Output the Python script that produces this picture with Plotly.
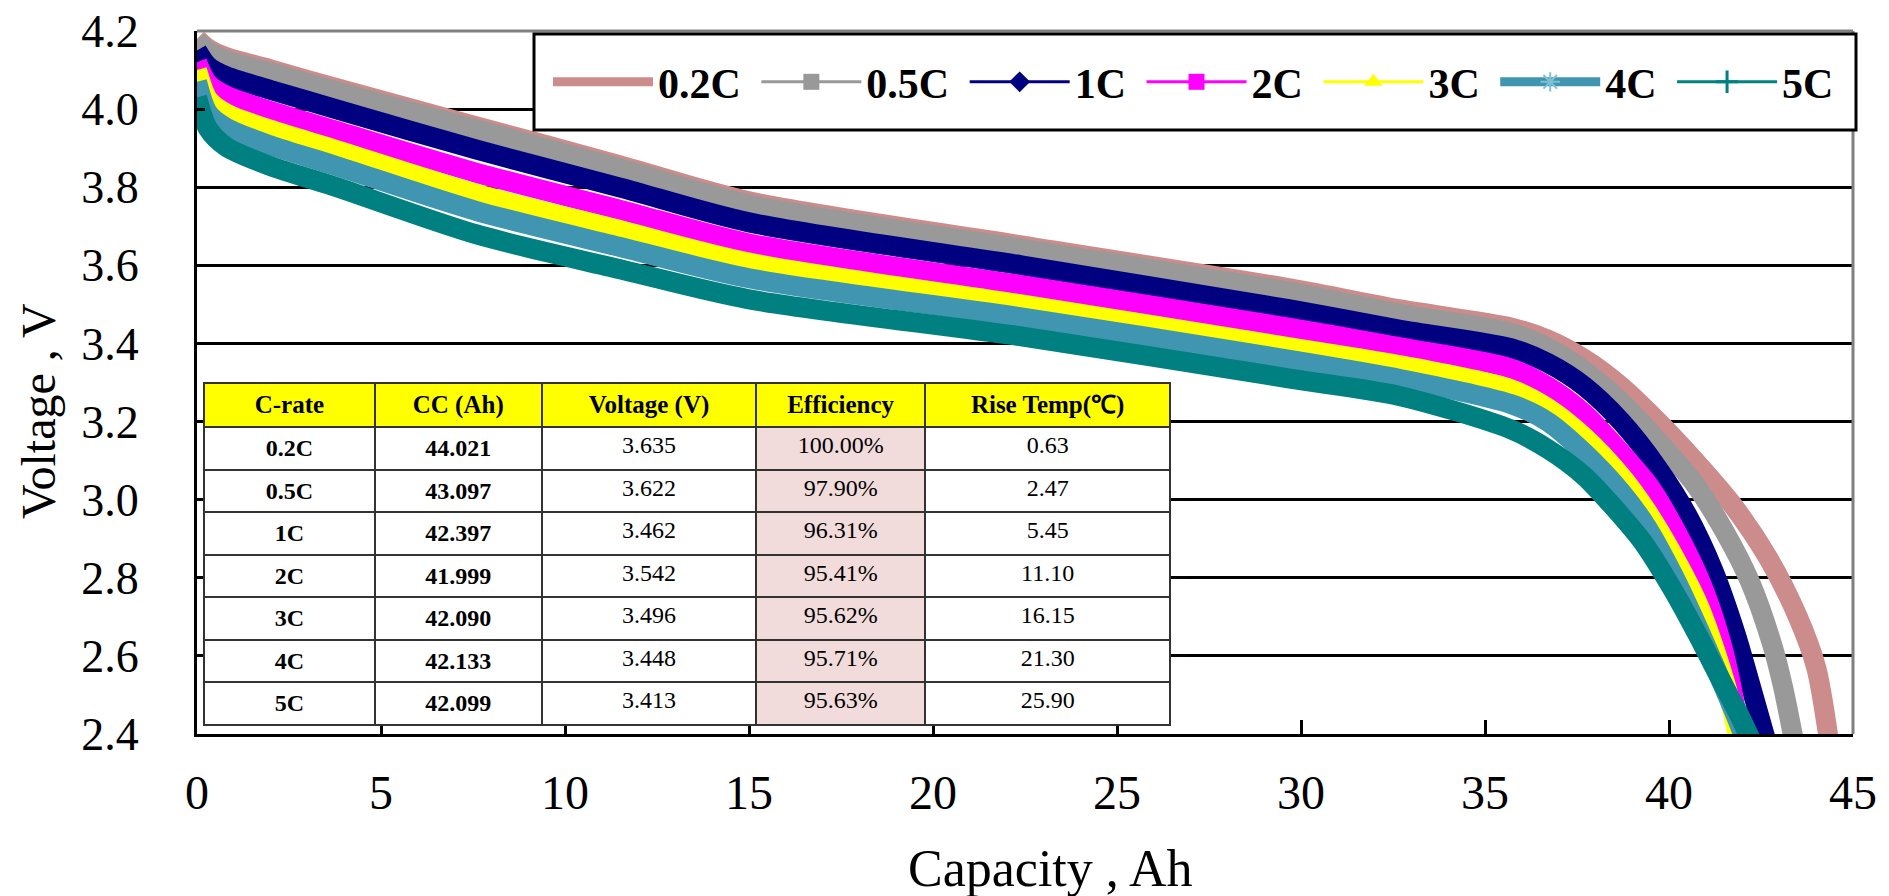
import plotly.graph_objects as go

# ---------------- data ----------------
CAP_02 = [0, 0.3, 0.8, 2, 3.7, 7.6, 11.5, 15, 22.4, 29.7, 32.7, 35.7, 36.7, 37.7, 38.7, 39.7, 40.7, 41.7, 42.7, 43.5, 44.0, 44.35]
V_02 = [4.18, 4.155, 4.133, 4.102, 4.056, 3.956, 3.856, 3.764, 3.651, 3.541, 3.487, 3.441, 3.410, 3.360, 3.290, 3.200, 3.100, 2.990, 2.850, 2.700, 2.570, 2.380]

CAP_05 = [0, 0.3, 0.8, 2, 3.7, 7.6, 11.5, 15, 22.4, 29.7, 32.7, 35.7, 36.7, 37.7, 38.7, 39.7, 40.7, 41.5, 42.2, 42.8, 43.1, 43.4]
V_05 = [4.175, 4.148, 4.125, 4.094, 4.048, 3.948, 3.848, 3.756, 3.643, 3.532, 3.476, 3.427, 3.390, 3.330, 3.250, 3.150, 3.040, 2.920, 2.790, 2.630, 2.520, 2.380]

CAP_1 = [0, 0.3, 0.8, 2, 3.7, 7.6, 11.5, 15, 22.4, 29.7, 32.7, 35.7, 36.7, 37.7, 38.7, 39.7, 40.5, 41.2, 41.8, 42.2, 42.65]
V_1 = [4.15, 4.11, 4.084, 4.049, 4.002, 3.896, 3.799, 3.710, 3.600, 3.487, 3.435, 3.388, 3.350, 3.290, 3.200, 3.080, 2.960, 2.820, 2.660, 2.530, 2.380]

CAP_2 = [0, 0.3, 0.8, 2, 3.7, 7.6, 11.5, 15, 22.4, 29.7, 32.7, 35.7, 36.7, 37.7, 38.7, 39.5, 40.3, 40.9, 41.4, 41.7, 41.95]
V_2 = [4.12, 4.065, 4.034, 3.995, 3.947, 3.837, 3.742, 3.656, 3.549, 3.440, 3.390, 3.336, 3.290, 3.220, 3.120, 3.030, 2.900, 2.780, 2.640, 2.520, 2.380]

CAP_3 = [0, 0.3, 0.8, 2, 3.7, 7.6, 11.5, 15, 22.4, 29.7, 32.7, 35.7, 36.7, 37.7, 38.7, 39.4, 40.1, 40.8, 41.3, 41.7, 41.9]
V_3 = [4.10, 4.025, 3.989, 3.947, 3.898, 3.783, 3.690, 3.607, 3.500, 3.390, 3.344, 3.283, 3.235, 3.160, 3.060, 2.970, 2.860, 2.730, 2.600, 2.470, 2.380]

CAP_4 = [0, 0.3, 0.8, 2, 3.7, 7.6, 11.5, 15, 22.4, 29.7, 32.7, 35.7, 36.7, 37.7, 38.7, 39.4, 40.1, 40.8, 41.4, 41.8, 42.1]
V_4 = [4.07, 3.99, 3.952, 3.907, 3.857, 3.739, 3.647, 3.567, 3.467, 3.358, 3.309, 3.245, 3.200, 3.120, 3.020, 2.930, 2.810, 2.670, 2.540, 2.450, 2.380]

CAP_5 = [0, 0.3, 0.8, 2, 3.7, 7.6, 11.5, 15, 22.4, 29.7, 32.7, 35.7, 36.7, 37.7, 38.5, 39.3, 40.1, 40.8, 41.4, 41.9, 42.25]
V_5 = [4.03, 3.95, 3.903, 3.854, 3.803, 3.679, 3.590, 3.513, 3.418, 3.310, 3.265, 3.180, 3.130, 3.060, 2.980, 2.890, 2.770, 2.650, 2.540, 2.450, 2.380]

SERIES_NAMES = ["0.2C", "0.5C", "1C", "2C", "3C", "4C", "5C"]

# table
TABLE_HEADER = ["C-rate", "CC (Ah)", "Voltage (V)", "Efficiency", "Rise Temp(℃)"]
C_RATES = ["0.2C", "0.5C", "1C", "2C", "3C", "4C", "5C"]
CC_AH = ["44.021", "43.097", "42.397", "41.999", "42.090", "42.133", "42.099"]
AVG_V = ["3.635", "3.622", "3.462", "3.542", "3.496", "3.448", "3.413"]
EFFICIENCY = ["100.00%", "97.90%", "96.31%", "95.41%", "95.62%", "95.71%", "95.63%"]
RISE_TEMP = ["0.63", "2.47", "5.45", "11.10", "16.15", "21.30", "25.90"]

X_TICKS = [0, 5, 10, 15, 20, 25, 30, 35, 40, 45]
Y_TICKS = [2.4, 2.6, 2.8, 3.0, 3.2, 3.4, 3.6, 3.8, 4.0, 4.2]

# ---------------- styling ----------------
COLORS = ["#CC8C8C", "#999999", "#000080", "#FF00FF", "#FFFF00", "#4096B0", "#008080"]
SERIF = "Liberation Serif"

OFF = 8  # page body margin of the html page
W, H = 1889 - OFF, 896 - OFF
# plot area in page pixels: x 197..1853, y 31..734
ML, MT = 197 - OFF, 31 - OFF
MR, MB = 36, 162
PW, PH = W - ML - MR, H - MT - MB


def px_x(p):  # page pixel -> paper fraction
    return (p - OFF - ML) / PW


def px_y(p):
    return (H - MB - (p - OFF)) / PH


fig = go.Figure()

curves = [(CAP_02, V_02), (CAP_05, V_05), (CAP_1, V_1), (CAP_2, V_2),
          (CAP_3, V_3), (CAP_4, V_4), (CAP_5, V_5)]
for (xs, ys), name, col in zip(curves, SERIES_NAMES, COLORS):
    fig.add_trace(go.Scatter(x=xs, y=ys, mode="lines", name=name,
                             line=dict(color=col, width=20, shape="spline", smoothing=0.8),
                             showlegend=False, hoverinfo="skip"))

# legend entries (styles only)
leg_styles = [
    dict(mode="lines", line=dict(color=COLORS[0], width=9)),
    dict(mode="lines+markers", line=dict(color=COLORS[1], width=3), marker=dict(symbol="square", size=16, color=COLORS[1])),
    dict(mode="lines+markers", line=dict(color=COLORS[2], width=3), marker=dict(symbol="diamond", size=16, color=COLORS[2])),
    dict(mode="lines+markers", line=dict(color=COLORS[3], width=3), marker=dict(symbol="square", size=16, color=COLORS[3])),
    dict(mode="lines+markers", line=dict(color=COLORS[4], width=3), marker=dict(symbol="triangle-up", size=16, color=COLORS[4])),
    dict(mode="lines+markers", line=dict(color=COLORS[5], width=9), marker=dict(symbol="asterisk-open", size=16, color="#7FC0D4", line=dict(width=2, color="#7FC0D4"))),
    dict(mode="lines+markers", line=dict(color=COLORS[6], width=3), marker=dict(symbol="cross-thin-open", size=16, color=COLORS[6], line=dict(width=3, color=COLORS[6]))),
]
for name, st in zip(SERIES_NAMES, leg_styles):
    fig.add_trace(go.Scatter(x=[None], y=[None], name=name + "\u00a0", showlegend=True, **st))

# table
bold = lambda lst: ["<b>%s</b>" % s for s in lst]
fig.add_trace(go.Table(
    domain=dict(x=[px_x(204), px_x(1171)], y=[0, px_y(383)]),
    columnwidth=[171, 167, 215, 169, 245],
    header=dict(values=bold(TABLE_HEADER), fill_color="#FFFF00",
                line=dict(color="#333333", width=2), align="center", height=44,
                font=dict(family=SERIF, size=25, color="black")),
    cells=dict(values=[bold(C_RATES), bold(CC_AH), AVG_V, EFFICIENCY, RISE_TEMP],
               fill_color=["white", "white", "white", "#F2DCDB", "white"],
               line=dict(color="#333333", width=2), align="center", height=42.5,
               font=dict(family=SERIF, size=24, color="black")),
))

fig.update_layout(
    width=W, height=H,
    margin=dict(l=ML, r=MR, t=MT, b=MB, pad=0, autoexpand=False),
    paper_bgcolor="white", plot_bgcolor="white",
    font=dict(family=SERIF, color="black"),
    showlegend=True,
    legend=dict(orientation="h", x=px_x(548), xanchor="left", y=px_y(82), yanchor="middle",
                bgcolor="rgba(0,0,0,0)", borderwidth=0, itemwidth=100,
                font=dict(family=SERIF, size=42, color="black", weight="bold")),
    xaxis=dict(range=[0, 45], tickvals=X_TICKS, ticks="inside", ticklen=14, tickwidth=3,
               tickcolor="black", showline=True, linecolor="black", linewidth=3,
               showgrid=False, zeroline=False, tickfont=dict(family=SERIF, size=48),
               ticklabelstandoff=14, automargin=False, ticklabeloverflow="allow"),
    yaxis=dict(range=[2.4, 4.2], tickvals=Y_TICKS, tickformat=".1f", ticks="inside",
               ticklen=8, tickwidth=3, tickcolor="black", showline=True, linecolor="black",
               linewidth=3, showgrid=True, gridcolor="black", gridwidth=3, zeroline=False,
               tickfont=dict(family=SERIF, size=46), ticklabelstandoff=46, automargin=False,
               ticklabeloverflow="allow"),
    shapes=[
        dict(type="line", xref="paper", yref="paper", x0=0, x1=1, y0=1, y1=1,
             line=dict(color="#808080", width=3), layer="between"),
        dict(type="line", xref="paper", yref="paper", x0=1, x1=1, y0=0, y1=1,
             line=dict(color="#808080", width=3), layer="above"),
        dict(type="rect", xref="paper", yref="paper", x0=px_x(534), x1=px_x(1856),
             y0=px_y(130), y1=px_y(34), line=dict(color="black", width=3),
             fillcolor="white", layer="above"),
    ],
    annotations=[
        dict(text="Voltage , V", xref="paper", yref="paper", x=px_x(38), y=px_y(411),
             xanchor="center", yanchor="middle",
             textangle=-90, showarrow=False, font=dict(family=SERIF, size=48, color="black")),
        dict(text="Capacity , Ah", xref="paper", yref="paper", x=px_x(1050), y=px_y(868),
             xanchor="center", yanchor="middle",
             showarrow=False, font=dict(family=SERIF, size=52, color="black")),
    ],
)

fig.write_html("out.html")
